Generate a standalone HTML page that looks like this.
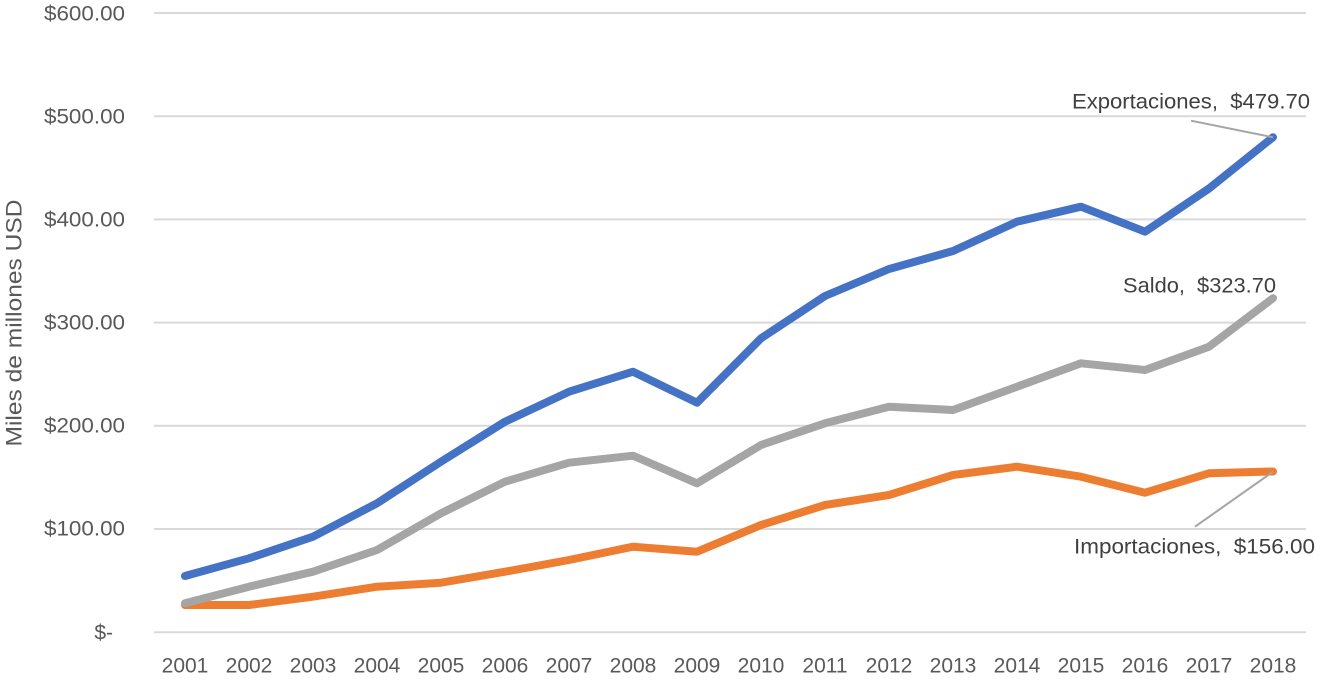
<!DOCTYPE html>
<html>
<head>
<meta charset="utf-8">
<style>
  html, body { margin: 0; padding: 0; background: #ffffff; }
  svg { display: block; }
  text { font-family: "Liberation Sans", "DejaVu Sans", sans-serif; }
</style>
</head>
<body>
<svg width="1323" height="680" viewBox="0 0 1323 680" xmlns="http://www.w3.org/2000/svg">
  <rect x="0" y="0" width="1323" height="680" fill="#ffffff"/>
  <!-- gridlines -->
  <g stroke="#D9D9D9" stroke-width="2">
    <line x1="154" y1="13" x2="1306" y2="13"/>
    <line x1="154" y1="116.2" x2="1306" y2="116.2"/>
    <line x1="154" y1="219.4" x2="1306" y2="219.4"/>
    <line x1="154" y1="322.6" x2="1306" y2="322.6"/>
    <line x1="154" y1="425.8" x2="1306" y2="425.8"/>
    <line x1="154" y1="529" x2="1306" y2="529"/>
    <line x1="154" y1="632.3" x2="1306" y2="632.3"/>
  </g>
  <!-- y tick labels -->
  <g fill="#595959" font-size="21" text-anchor="end" dominant-baseline="central">
    <text x="125" y="14" textLength="81" lengthAdjust="spacingAndGlyphs">$600.00</text>
    <text x="125" y="117" textLength="81" lengthAdjust="spacingAndGlyphs">$500.00</text>
    <text x="125" y="220" textLength="81" lengthAdjust="spacingAndGlyphs">$400.00</text>
    <text x="125" y="323" textLength="81" lengthAdjust="spacingAndGlyphs">$300.00</text>
    <text x="125" y="426" textLength="81" lengthAdjust="spacingAndGlyphs">$200.00</text>
    <text x="125" y="529" textLength="81" lengthAdjust="spacingAndGlyphs">$100.00</text>
    <text x="113" y="633">$-</text>
  </g>
  <!-- axis title -->
  <text transform="translate(14,323) rotate(-90)" fill="#595959" font-size="22" text-anchor="middle" dominant-baseline="central" textLength="247" lengthAdjust="spacingAndGlyphs">Miles de millones USD</text>
  <!-- x labels -->
  <g fill="#595959" font-size="21" text-anchor="middle" dominant-baseline="central">
    <text x="185" y="666">2001</text>
    <text x="249" y="666">2002</text>
    <text x="313" y="666">2003</text>
    <text x="377" y="666">2004</text>
    <text x="441" y="666">2005</text>
    <text x="505" y="666">2006</text>
    <text x="569" y="666">2007</text>
    <text x="633" y="666">2008</text>
    <text x="697" y="666">2009</text>
    <text x="761" y="666">2010</text>
    <text x="825" y="666">2011</text>
    <text x="889" y="666">2012</text>
    <text x="953" y="666">2013</text>
    <text x="1017" y="666">2014</text>
    <text x="1081" y="666">2015</text>
    <text x="1145" y="666">2016</text>
    <text x="1209" y="666">2017</text>
    <text x="1273" y="666">2018</text>
  </g>
  <!-- series -->
  <g fill="none" stroke-width="8" stroke-linecap="round" stroke-linejoin="round">
    <polyline stroke="#4472C4" points="185,576 249,558.3 313,536.7 377,503.3 441,461.7 505,421.7 569,391.7 633,371.7 697,402.7 761,338.3 825,296 889,269 953,251 1017,221.7 1081,206.7 1145,231.7 1209,188.5 1273,137.2"/>
    <polyline stroke="#ED7D31" points="185,605 249,605 313,596.7 377,586.7 441,582.7 505,571.7 569,560 633,546.7 697,551.7 761,525 825,505 889,495 953,475 1017,466.7 1081,476.7 1145,492.7 1209,473.3 1273,471.5"/>
    <polyline stroke="#A5A5A5" points="185,603.3 249,586.7 313,571.7 377,550 441,513.3 505,481.7 569,462.7 633,455.7 697,483.3 761,445 825,423.3 889,406.7 953,410 1017,386.7 1081,363.3 1145,370 1209,346.7 1273,298.2"/>
  </g>
  <!-- leader lines -->
  <g stroke="#A5A5A5" stroke-width="2">
    <line x1="1191" y1="120.7" x2="1273" y2="137.3"/>
    <line x1="1195" y1="526.7" x2="1273" y2="471.7"/>
  </g>
  <!-- data labels -->
  <g fill="#404040" font-size="21" dominant-baseline="central">
    <text x="1072" y="102" textLength="238" lengthAdjust="spacingAndGlyphs" xml:space="preserve">Exportaciones,  $479.70</text>
    <text x="1123" y="286" textLength="153" lengthAdjust="spacingAndGlyphs" xml:space="preserve">Saldo,  $323.70</text>
    <text x="1074" y="547" textLength="241" lengthAdjust="spacingAndGlyphs" xml:space="preserve">Importaciones,  $156.00</text>
  </g>
</svg>
</body>
</html>
